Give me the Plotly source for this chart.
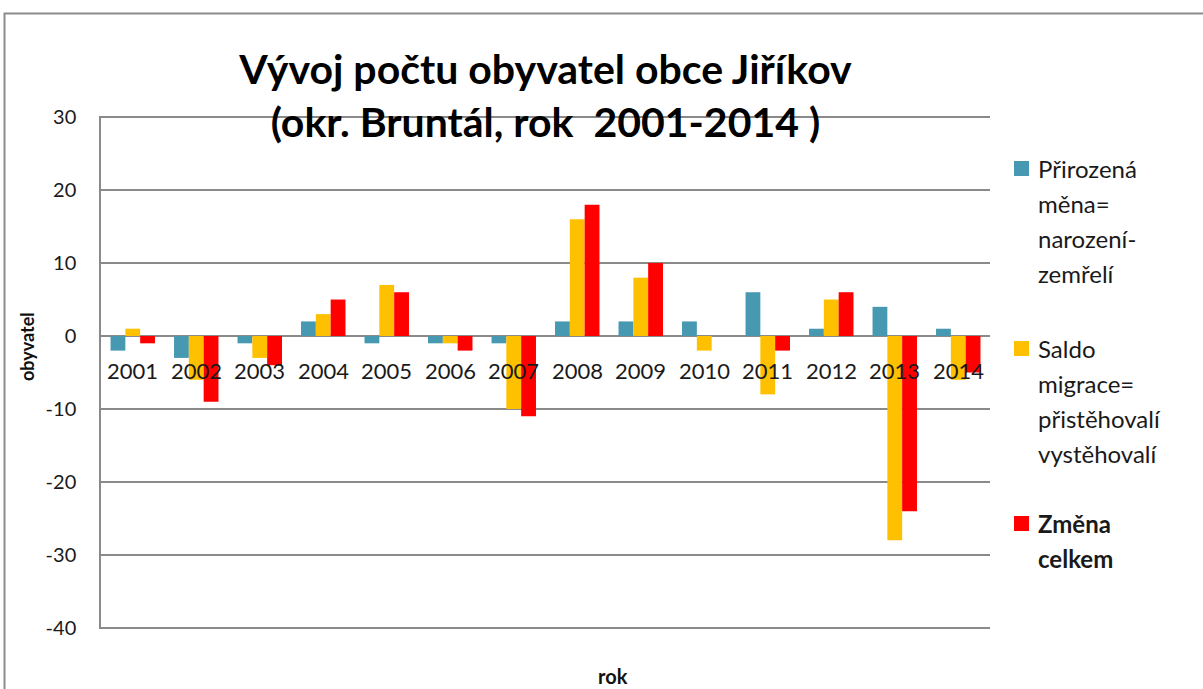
import plotly.graph_objects as go

years = ["2001", "2002", "2003", "2004", "2005", "2006", "2007",
         "2008", "2009", "2010", "2011", "2012", "2013", "2014"]
prirozena = [-2, -3, -1, 2, -1, -1, -1, 2, 2, 2, 6, 1, 4, 1]
saldo = [1, -6, -3, 3, 7, -1, -10, 16, 8, -2, -8, 5, -28, -6]
zmena = [-1, -9, -4, 5, 6, -2, -11, 18, 10, 0, -2, 6, -24, -5]

series_names = ["Přirozená měna= narození-zemřelí",
                "Saldo migrace= přistěhovalí-vystěhovalí",
                "Změna celkem"]
legend_lines = [["Přirozená", "měna=", "narození-", "zemřelí"],
                ["Saldo", "migrace=", "přistěhovalí", "vystěhovalí"],
                ["Změna", "celkem"]]
legend_bold = [False, False, True]
colors = ["#4699B0", "#FFC000", "#FF0000"]

title_text = "Vývoj počtu obyvatel obce Jiříkov<br>(okr. Bruntál, rok  2001-2014 )"
y_title = "obyvatel"
x_title = "rok"
y_ticks = [30, 20, 10, 0, -10, -20, -30, -40]
y_ticklabels = ["30", "20", "10", "0", "-10", "-20", "-30", "-40"]

W, H = 1203, 689
L, R, T, B = 101, 990, 116, 629
FONT = "Lato"


def px_x(px):
    return (px - L) / (R - L)


def px_y(py):
    return (B - py) / (B - T)


fig = go.Figure()
for name, vals, col in zip(series_names, [prirozena, saldo, zmena], colors):
    fig.add_trace(go.Bar(x=years, y=vals, name=name, marker=dict(color=col, line=dict(width=0)),
                         showlegend=False, hoverinfo="x+y"))

annotations = []
# category labels next to the zero line (category axis: index positions)
for i, yr in enumerate(years):
    annotations.append(dict(x=i, y=0, xref="x", yref="y", text=yr, showarrow=False,
                            yshift=-34, yanchor="middle", xanchor="center",
                            font=dict(family=FONT, size=22, color="#1a1a1a")))
# axis titles
annotations.append(dict(x=px_x(27), y=px_y(347), xref="paper", yref="paper", text="<b>" + y_title + "</b>",
                        textangle=-90, showarrow=False, xanchor="center", yanchor="middle",
                        font=dict(family=FONT, size=18, color="#111111")))
annotations.append(dict(x=px_x(613), y=px_y(676), xref="paper", yref="paper", text="<b>" + x_title + "</b>",
                        showarrow=False, xanchor="center", yanchor="middle",
                        font=dict(family=FONT, size=20, color="#111111")))

shapes = []
# manual legend
first_line_y = [168, 348, 523]
for i, lines in enumerate(legend_lines):
    y0 = first_line_y[i]
    shapes.append(dict(type="rect", xref="paper", yref="paper",
                       x0=px_x(1014), x1=px_x(1029), y0=px_y(y0 - 7), y1=px_y(y0 + 8),
                       fillcolor=colors[i], line=dict(width=0)))
    for j, ln in enumerate(lines):
        txt = "<b>" + ln + "</b>" if legend_bold[i] else ln
        annotations.append(dict(x=px_x(1036), y=px_y(y0 + 35 * j), xref="paper", yref="paper",
                                text=txt, showarrow=False, xanchor="left", yanchor="middle",
                                font=dict(family=FONT, size=24, color="#1a1a1a")))

# outer chart frame
shapes.append(dict(type="rect", xref="paper", yref="paper",
                   x0=px_x(4.5), x1=px_x(1260), y0=px_y(740), y1=px_y(13.5),
                   line=dict(color="#8c8c8c", width=2), fillcolor="rgba(0,0,0,0)", layer="below"))

fig.update_layout(
    width=W, height=H,
    margin=dict(l=L, r=W - R, t=T, b=H - B, autoexpand=False),
    paper_bgcolor="white", plot_bgcolor="white",
    barmode="group", bargap=0.3, bargroupgap=0,
    title=dict(text="<b>" + title_text + "</b>", x=(L + R) / 2 / W, xanchor="center",
               y=1 - 84 / H, yanchor="middle", yref="container",
               font=dict(family=FONT, size=41, color="#000000")),
    font=dict(family=FONT),
    xaxis=dict(type="category", range=[-0.5, len(years) - 0.5], showticklabels=False,
               showgrid=False, zeroline=False, showline=False, ticks="", automargin=False),
    yaxis=dict(range=[-40.15, 30.15], tickvals=y_ticks, ticktext=y_ticklabels,
               showgrid=True, gridcolor="#8a8a8a", gridwidth=1.5,
               zeroline=True, zerolinecolor="#8a8a8a", zerolinewidth=1.5,
               showline=True, linecolor="#8a8a8a", linewidth=1.5,
               ticks="", ticklabelstandoff=19, automargin=False,
               tickfont=dict(family=FONT, size=20, color="#1a1a1a")),
    annotations=annotations,
    shapes=shapes,
)

fig.write_html("out.html", config={"displayModeBar": False},
               post_script="document.body.style.margin='0';document.body.style.padding='0';")
